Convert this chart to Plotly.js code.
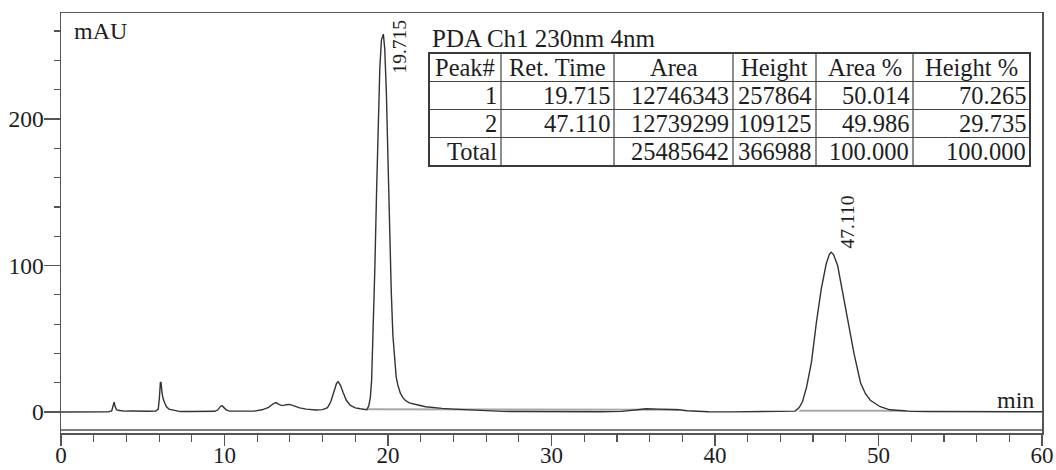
<!DOCTYPE html>
<html>
<head>
<meta charset="utf-8">
<script src="https://cdn.plot.ly/plotly-3.0.1.min.js"></script>
<style>html,body{margin:0;padding:0;background:#fff;}#chart{width:1056px;height:470px;}</style>
</head>
<body>
<div id="chart"></div>
<script>
// Chromatogram (time in min, absorbance in mAU)
const timeMin = [0,1.0,2.0,2.9,3.1,3.2,3.25,3.3,3.4,3.6,3.9,4.3,4.8,5.3,5.8,5.95,6.02,6.08,6.12,6.18,6.25,6.35,6.45,6.6,6.8,7.0,7.3,8.0,8.8,9.4,9.6,9.75,9.85,9.95,10.1,10.3,11.0,11.8,12.3,12.7,13.0,13.15,13.35,13.55,13.8,13.98,14.2,14.6,15.0,15.6,16.0,16.3,16.5,16.7,16.85,16.95,17.1,17.25,17.45,17.7,18.0,18.3,18.55,18.7,18.82,18.92,19.0,19.1,19.2,19.3,19.4,19.5,19.6,19.715,19.8,19.9,20.0,20.1,20.2,20.3,20.4,20.5,20.6,20.75,20.9,21.05,21.3,21.6,21.9,22.3,22.7,23.3,24.0,24.6,25.3,26.0,27.0,28.0,29.0,31.0,33.0,34.3,34.8,35.2,35.8,36.5,37.2,37.8,38.3,39.0,39.6,41.0,43.0,44.5,44.9,45.15,45.35,45.6,45.9,46.2,46.5,46.8,47.0,47.11,47.25,47.5,47.75,48.1,48.5,48.9,49.2,49.5,49.8,50.1,50.7,51.3,52.0,53.0,55.0,57.0,60.0];
const absMAU = [0,0,0,0.1,0.8,4.5,6.8,4,1.5,1.0,0.6,0.7,0.4,0.5,0.7,2,10,20.5,20,13,9,6,3.5,2,1.6,0.8,0.3,0.3,0.4,0.5,1.5,3.8,4.3,3,1.5,0.6,0.4,0.6,1.5,3.2,5.8,6.4,5,4.4,5,5.2,4.4,2.8,2,1.4,1.6,3,7,14,19.5,20.7,18,13.5,8,4.5,2.8,2.2,1.8,1.6,4,10,22,55,100,150,200,235,254,257.9,248,218,172,122,82,52,34,24,18.5,13,10,8,6.2,5.2,4.6,3.6,3.0,2.5,2.0,1.6,1.1,0.7,0.4,0.3,0.2,0.2,0.2,0.4,1.0,1.8,2.2,2.0,1.9,1.5,0.9,0.4,0.2,0.1,0.1,0.2,0.6,3,7,17,34,61,84,101,107.8,109.1,107.5,100,85.5,62.8,40,20,12.5,8,5.5,3.6,1.5,0.8,0.4,0.3,0.2,0.2,0.2];

// Integration baselines
const base1Time = [18.7, 37.8];
const base1Abs  = [1.8, 1.5];
const base2Time = [45.15, 51.7];
const base2Abs  = [0.8, 0.8];

// Peak table
const tableTitle = 'PDA Ch1 230nm 4nm';
const tableHeader = ['Peak#', 'Ret. Time', 'Area', 'Height', 'Area %', 'Height %'];
const peakNo    = ['1', '2', 'Total'];
const retTime   = ['19.715', '47.110', ''];
const areaVal   = ['12746343', '12739299', '25485642'];
const heightVal = ['257864', '109125', '366988'];
const areaPct   = ['50.014', '49.986', '100.000'];
const heightPct = ['70.265', '29.735', '100.000'];

// Peak labels
const peakLabelTime = [19.715, 47.110];
const peakLabelAbs  = [257.9, 109.1];
const peakLabelText = ['19.715', '47.110'];

const serif = 'Liberation Serif, Times New Roman, serif';
const ink = '#1e1e1e';
const axisCol = '#555';

// plot area in pixels (for placing the table box in paper coordinates)
const M = {l: 61, r: 14, t: 13, b: 37};
const W = 1056, H = 470;
const pw = W - M.l - M.r, ph = H - M.t - M.b;
const px2x = p => (p - M.l) / pw;
const px2y = p => (H - M.b - p) / ph;

// table geometry (pixels)
const colEdges = [429, 501, 614, 733, 816, 913, 1030];
const rowEdges = [53, 81.5, 109.5, 137.5, 166];

const traces = [
  {x: base1Time, y: base1Abs, type: 'scatter', mode: 'lines', line: {color: '#a8a8a8', width: 2}, hoverinfo: 'skip'},
  {x: base2Time, y: base2Abs, type: 'scatter', mode: 'lines', line: {color: '#a8a8a8', width: 2}, hoverinfo: 'skip'},
  {x: timeMin, y: absMAU, type: 'scatter', mode: 'lines', line: {color: '#333', width: 1.4}}
];

const shapes = [
  {type: 'line', xref: 'paper', yref: 'paper', x0: 0, x1: 1, y0: 0.00714, y1: 0.00714, line: {color: axisCol, width: 1.5}}
];
shapes.push({type: 'rect', xref: 'paper', yref: 'paper', layer: 'above',
  x0: px2x(colEdges[0]), x1: px2x(colEdges[colEdges.length - 1]), y0: px2y(rowEdges[0]), y1: px2y(rowEdges[rowEdges.length - 1]),
  fillcolor: 'rgba(255,255,255,0)', line: {color: '#3a3a3a', width: 2}});
for (let c = 1; c < colEdges.length - 1; c++) {
  shapes.push({type: 'line', xref: 'paper', yref: 'paper', layer: 'above',
    x0: px2x(colEdges[c]), x1: px2x(colEdges[c]), y0: px2y(rowEdges[0]), y1: px2y(rowEdges[rowEdges.length - 1]),
    line: {color: '#444', width: 1.2}});
}
for (let r = 1; r < rowEdges.length - 1; r++) {
  shapes.push({type: 'line', xref: 'paper', yref: 'paper', layer: 'above',
    x0: px2x(colEdges[0]), x1: px2x(colEdges[colEdges.length - 1]), y0: px2y(rowEdges[r]), y1: px2y(rowEdges[r]),
    line: {color: '#444', width: 1.2}});
}

const tblFont = {family: serif, size: 24.5, color: ink};
const annotations = [
  {xref: 'paper', yref: 'paper', x: 0.0112, y: 0.957, xanchor: 'left', yanchor: 'middle', text: 'mAU', showarrow: false, font: {family: serif, size: 24, color: ink}},
  {xref: 'paper', yref: 'paper', x: 0.9939, y: 0.0786, xanchor: 'right', yanchor: 'middle', text: 'min', showarrow: false, font: {family: serif, size: 24, color: ink}},
  {xref: 'paper', yref: 'paper', x: px2x(430), y: px2y(38), xanchor: 'left', yanchor: 'middle', text: tableTitle, showarrow: false, font: {family: serif, size: 25, color: ink}}
];
tableHeader.forEach((h, c) => {
  annotations.push({xref: 'paper', yref: 'paper', x: px2x((colEdges[c] + colEdges[c + 1]) / 2), y: px2y((rowEdges[0] + rowEdges[1]) / 2),
    xanchor: 'center', yanchor: 'middle', text: h, showarrow: false, font: tblFont});
});
const columns = [peakNo, retTime, areaVal, heightVal, areaPct, heightPct];
columns.forEach((col, c) => {
  col.forEach((v, r) => {
    if (v === '') return;
    annotations.push({xref: 'paper', yref: 'paper', x: px2x(colEdges[c + 1] - 2), y: px2y((rowEdges[r + 1] + rowEdges[r + 2]) / 2),
      xanchor: 'right', yanchor: 'middle', text: v, showarrow: false, font: tblFont});
  });
});
peakLabelTime.forEach((t, i) => {
  annotations.push({x: t, y: peakLabelAbs[i], xref: 'x', yref: 'y', text: peakLabelText[i], textangle: -90,
    showarrow: false, xanchor: 'center', yanchor: 'middle', xshift: 16, yshift: i === 0 ? -12 : 30,
    font: {family: serif, size: 19.5, color: ink}});
});

const layout = {
  width: W, height: H,
  margin: M,
  paper_bgcolor: '#fff', plot_bgcolor: '#fff',
  showlegend: false,
  xaxis: {range: [0, 60], showgrid: false, zeroline: false, showline: true, mirror: true,
    linecolor: axisCol, linewidth: 1.5, ticks: 'outside', ticklen: 11, tickwidth: 1.4, tickcolor: axisCol,
    tick0: 0, dtick: 10, ticklabelstandoff: -10, tickfont: {family: serif, size: 23, color: ink},
    minor: {dtick: 2, tick0: 0, ticks: 'outside', ticklen: 7, tickwidth: 1.2, tickcolor: axisCol}},
  yaxis: {range: [-14.33, 272.35], showgrid: false, zeroline: false, showline: true, mirror: true,
    linecolor: axisCol, linewidth: 1.5, ticks: 'outside', ticklen: 16, tickwidth: 1.4, tickcolor: axisCol,
    tickvals: [0, 100, 200], ticklabelstandoff: -5, tickfont: {family: serif, size: 23.5, color: ink},
    minor: {dtick: 20, tick0: 0, ticks: 'outside', ticklen: 6, tickwidth: 1.2, tickcolor: axisCol}},
  shapes: shapes,
  annotations: annotations
};

Plotly.newPlot('chart', traces, layout, {displayModeBar: false, staticPlot: true});
</script>
</body>
</html>
